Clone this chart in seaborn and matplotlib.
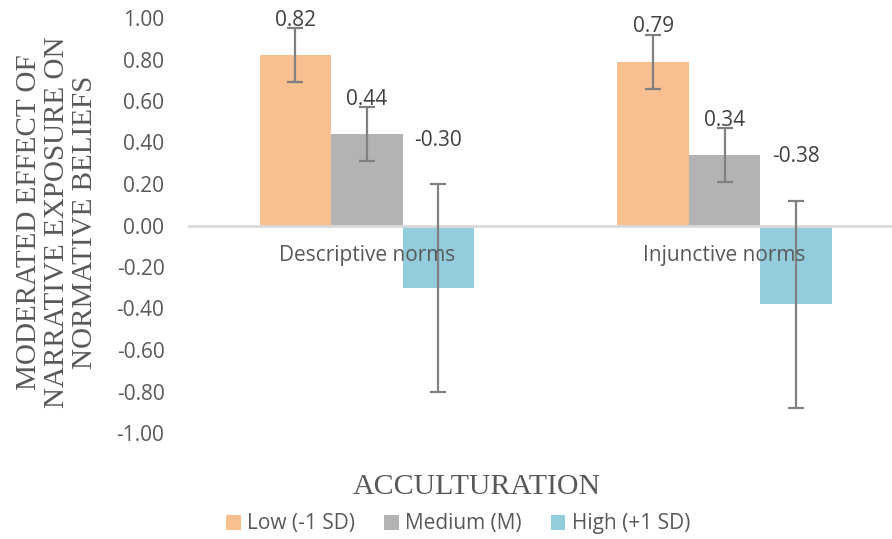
import matplotlib
matplotlib.use("Agg")
import matplotlib.pyplot as plt
import seaborn as sns
import pandas as pd
from matplotlib.ticker import FuncFormatter, FixedLocator
from matplotlib.patches import Patch

# ---- data ----
norms = ["Descriptive norms", "Injunctive norms"]
levels = ["Low (-1 SD)", "Medium (M)", "High (+1 SD)"]
low_vals = [0.82, 0.79]
med_vals = [0.44, 0.34]
high_vals = [-0.30, -0.38]
low_err = [0.13, 0.13]
med_err = [0.13, 0.13]
high_err = [0.50, 0.50]
y_ticks = [1.0, 0.8, 0.6, 0.4, 0.2, 0.0, -0.2, -0.4, -0.6, -0.8, -1.0]

colors = ["#F8C090", "#B3B3B3", "#93CDDD"]
grey_txt = "#595959"

rows = []
for lev, vals, errs in zip(levels, [low_vals, med_vals, high_vals], [low_err, med_err, high_err]):
    for n, v, e in zip(norms, vals, errs):
        rows.append({"norm": n, "level": lev, "value": v, "err": e})
df = pd.DataFrame(rows)

sns.set_theme(style="white")
plt.rcParams["font.family"] = ["Open Sans", "DejaVu Sans"]
FS = 15

fig = plt.figure(figsize=(8.92, 5.39), dpi=100)
ax = fig.add_axes([188 / 892, 1 - 433 / 539, (903.5 - 188) / 892, (433 - 18) / 539])

sns.barplot(data=df, x="norm", y="value", hue="level", order=norms, hue_order=levels,
            palette=colors, width=0.6, errorbar=None, saturation=1, ax=ax, legend=False,
            linewidth=0)

ax.set_xlim(-0.5, 1.5)
ax.set_ylim(-1.0, 1.0)

# error bars & value labels
for cont, lev in zip(ax.containers, levels):
    sub = df[df["level"] == lev].set_index("norm").loc[norms]
    for bar, v, e in zip(cont.patches, sub["value"], sub["err"]):
        xc = bar.get_x() + bar.get_width() / 2
        ax.errorbar(xc, v, yerr=e, fmt="none", ecolor="#808080", elinewidth=1.6,
                    capsize=5.5, capthick=1.6, zorder=3)
        top = v + e
        off = -2 if v >= 0 else 24
        ax.annotate(f"{v:.2f}", (xc, top), xytext=(0, off), textcoords="offset points",
                    ha="center", va="bottom", fontsize=FS, color="#404040", zorder=4)

# zero line
ax.axhline(0, color="#D9D9D9", lw=2, zorder=2)

# category labels
for i, n in enumerate(norms):
    ax.text(i, -0.145, n, ha="center", va="center", fontsize=FS, color=grey_txt)

ax.set_xticks([])
ax.set_xlabel("")
ax.set_ylabel("")
ax.yaxis.set_major_locator(FixedLocator(y_ticks))
ax.yaxis.set_major_formatter(FuncFormatter(lambda v, p: f"{v:.2f}".replace("\u2212", "-")))
ax.tick_params(axis="y", length=0, pad=17, labelsize=FS, labelcolor=grey_txt)
for s in ax.spines.values():
    s.set_visible(False)

fig.text(57 / 892, 1 - 222 / 539, "MODERATED EFFECT OF\nNARRATIVE EXPOSURE ON\nNORMATIVE BELIEFS",
         rotation=90, ha="center", va="center", multialignment="center",
         fontsize=21, color=grey_txt, family=["Liberation Serif"], linespacing=1.12)

fig.text(477 / 892, 1 - 487 / 539, "ACCULTURATION", ha="center", va="center",
         fontsize=21.5, color=grey_txt, family=["Liberation Serif"])

handles = [Patch(facecolor=c, edgecolor="none") for c in colors]
fig.legend(handles, levels, loc="center", bbox_to_anchor=(458 / 892, 1 - 524 / 539),
           ncol=3, frameon=False, fontsize=FS, labelcolor=grey_txt,
           handlelength=0.7, handleheight=0.7, handletextpad=0.3, columnspacing=1.4)

fig.savefig("out.png", dpi=100)
